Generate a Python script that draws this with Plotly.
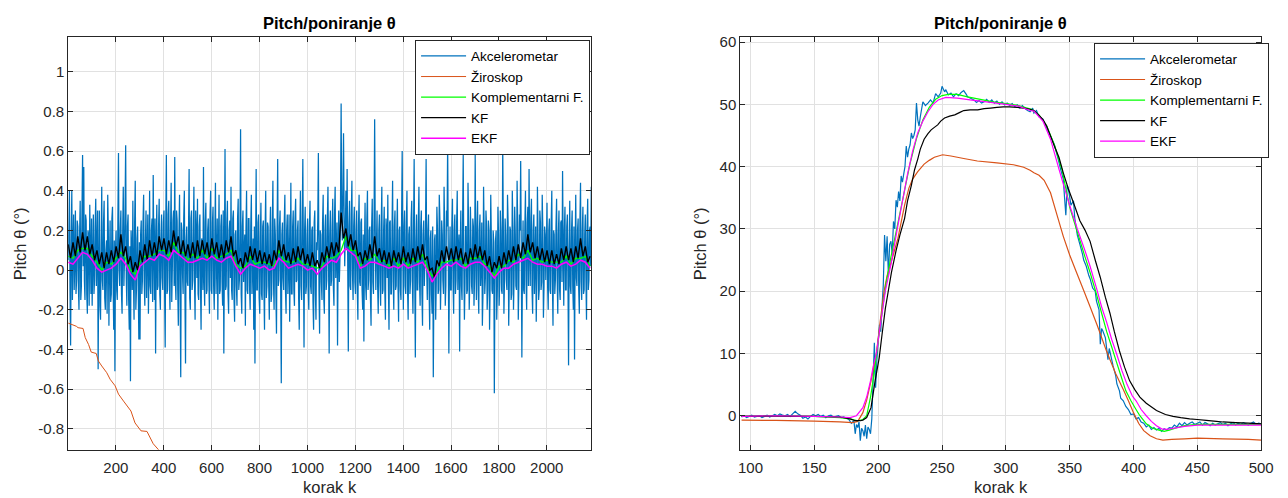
import plotly.graph_objects as go

# ---------------- LEFT PANEL DATA ----------------
# accelerometer samples at k = 1, 6, 11, ... (step 5)
acc_left_step = 5
acc_left = [
    0.05, 0.40, -0.38, 0.40, 0.12, -0.10, 0.30, -0.05, 0.22, -0.20, 0.35, -0.08, 0.58, 0.52, -0.15, 0.25, -0.22, 0.18, 0.33, -0.12,
    -0.18, 0.28, -0.05, 0.36, 0.10, -0.50, 0.30, -0.25, 0.42, -0.10, 0.35, -0.20, 0.15, 0.38, -0.28, 0.25, -0.12, 0.32, -0.30, -0.51,
    0.20, -0.15, 0.59, -0.08, 0.30, -0.22, 0.42, 0.05, 0.63, -0.18, 0.28, -0.30, -0.56, 0.12, 0.35, -0.25, 0.45, -0.10, 0.22, -0.35,
    -0.35, 0.25, -0.05, 0.38, -0.18, 0.30, 0.08, -0.22, 0.40, -0.12, 0.26, 0.48, -0.15, -0.42, 0.33, -0.08, 0.36, -0.20, 0.28, -0.10,
    0.30, -0.39, 0.58, -0.10, 0.35, -0.20, 0.44, 0.02, 0.30, 0.57, -0.15, 0.25, -0.28, 0.38, -0.54, 0.20, -0.12, 0.40, -0.47, 0.22,
    -0.08, 0.51, -0.20, 0.30, -0.05, 0.42, -0.25, 0.18, 0.36, -0.15, 0.28, -0.30, 0.12, 0.52, -0.18, 0.34, -0.10, 0.26, -0.22, 0.40,
    -0.12, 0.32, -0.20, 0.44, 0.05, -0.25, 0.38, -0.10, 0.28, -0.18, -0.42, 0.61, -0.08, 0.35, -0.22, 0.25, 0.42, -0.15, 0.30, -0.26,
    0.20, -0.18, 0.36, -0.05, 0.71, -0.22, 0.30, 0.10, -0.28, 0.40, -0.12, 0.26, -0.20, 0.38, 0.05, -0.30, -0.47, 0.51, -0.10, 0.28,
    -0.22, 0.34, -0.15, 0.25, -0.30, 0.40, -0.08, 0.22, -0.25, 0.32, -0.12, 0.45, -0.20, 0.18, -0.32, 0.56, -0.05, 0.30, -0.57, 0.24,
    -0.10, 0.38, -0.22, 0.28, 0.02, -0.26, 0.44, -0.12, 0.30, -0.18, 0.36, -0.05, 0.25, -0.30, 0.40, -0.15, 0.56, -0.39, 0.32, -0.08,
    0.26, -0.20, 0.35, -0.12, 0.22, -0.30, 0.30, -0.25, 0.10, 0.59, -0.32, 0.18, -0.15, 0.38, -0.22, 0.28, -0.05, 0.42, -0.42, 0.30,
    -0.05, 0.36, -0.18, 0.42, 0.10, -0.38, 0.30, 0.05, 0.84, 0.15, 0.69, 0.02, 0.40, 0.51, -0.41, 0.35, -0.10, 0.45, -0.15, 0.32,
    -0.12, 0.30, -0.25, 0.38, -0.08, 0.26, -0.20, -0.36, 0.34, -0.15, 0.40, -0.05, 0.22, -0.28, 0.36, -0.12, 0.76, -0.10, 0.30, -0.22,
    0.28, -0.18, 0.42, -0.10, 0.32, -0.25, 0.20, 0.38, -0.30, 0.25, -0.12, 0.45, -0.20, 0.30, -0.08, 0.36, -0.26, 0.22, -0.15, 0.60,
    -0.20, 0.30, -0.12, 0.40, -0.25, 0.22, -0.05, 0.35, -0.22, 0.56, -0.44, 0.28, -0.10, 0.42, -0.18, 0.30, -0.28, 0.25, 0.05, 0.56,
    -0.15, 0.28, -0.30, 0.20, -0.22, -0.54, 0.15, -0.25, 0.32, -0.12, 0.38, -0.20, 0.25, -0.05, 0.42, -0.18, 0.30, 0.64, -0.42, 0.22,
    -0.10, 0.36, -0.22, 0.28, -0.05, 0.40, 0.10, -0.41, 0.30, -0.15, 0.58, -0.25, 0.22, -0.12, 0.44, -0.20, 0.32, -0.08, 0.26, -0.18,
    0.58, -0.15, 0.35, -0.22, 0.28, 0.02, -0.28, 0.42, -0.12, 0.30, -0.20, 0.25, -0.30, 0.38, -0.10, 0.20, -0.62, 0.15, -0.25, 0.32,
    -0.18, 0.30, -0.10, 0.64, -0.22, 0.26, -0.05, 0.38, -0.28, 0.22, -0.15, 0.40, -0.20, 0.32, -0.08, 0.45, -0.25, 0.28, 0.55, -0.44,
    0.25, -0.12, 0.40, -0.20, 0.32, 0.51, -0.08, 0.36, -0.22, 0.28, 0.05, -0.26, 0.42, -0.15, 0.30, -0.10, 0.38, -0.24, 0.22, -0.05,
    0.34, -0.20, 0.26, -0.12, 0.40, -0.28, 0.18, -0.05, 0.36, -0.22, 0.30, -0.15, 0.25, 0.50, -0.18, 0.32, -0.10, 0.28, -0.48, 0.35,
    -0.12, 0.30, -0.20, -0.45, 0.38, -0.08, 0.26, -0.22, 0.44, -0.15, 0.32, -0.10, 0.28, -0.25, 0.36, -0.05, 0.22, 0.42, -0.37,
]
# accelerometer samples in between, at k = 3.5, 8.5, 13.5, ...
acc_left_mid = [
    0.22, -0.10, 0.15, -0.15, 0.28, 0.05, -0.12, 0.25, -0.08, 0.18, -0.15, 0.30, 0.02, -0.05, 0.28, -0.12, 0.20, -0.18, 0.10, 0.26,
    0.05, -0.12, 0.22, -0.08, 0.30, 0.02, -0.18, 0.12, -0.05, 0.24, -0.14, 0.10, -0.22, 0.20, 0.04, -0.16, 0.26, -0.06, 0.15, 0.10,
    -0.10, 0.26, 0.00, 0.20, -0.12, 0.18, -0.08, 0.32, -0.04, 0.22, -0.15, 0.12, 0.20, -0.10, -0.05, 0.24, -0.20, 0.16, -0.08, 0.14,
    0.18, -0.12, 0.24, -0.06, 0.15, -0.14, 0.28, 0.00, -0.08, 0.20, -0.16, 0.10, 0.26, 0.12, -0.10, 0.22, -0.12, 0.18, -0.04, 0.24,
    -0.10, 0.22, -0.12, 0.28, -0.04, 0.20, -0.16, 0.25, -0.08, -0.05, 0.30, -0.10, 0.18, -0.14, 0.24, -0.02, 0.26, -0.12, 0.15, -0.06,
    0.20, -0.14, 0.26, -0.10, 0.18, -0.06, 0.30, -0.04, -0.12, 0.22, -0.08, 0.16, -0.10, -0.04, 0.24, -0.12, 0.20, -0.06, 0.28, -0.10,
    0.24, -0.08, 0.18, -0.12, 0.26, 0.10, -0.12, 0.22, -0.06, 0.30, 0.10, -0.10, 0.24, -0.12, 0.20, -0.04, -0.10, 0.26, -0.14, 0.18,
    -0.08, 0.26, -0.10, 0.20, -0.12, 0.22, -0.06, 0.18, 0.20, -0.10, 0.26, -0.08, 0.22, -0.12, 0.16, 0.22, 0.08, -0.10, 0.24, -0.14,
    0.16, -0.12, 0.22, -0.10, 0.20, -0.14, 0.24, -0.08, 0.18, -0.16, 0.22, -0.06, 0.26, -0.12, 0.20, -0.08, 0.22, -0.10, 0.18, -0.04,
    0.24, -0.10, 0.20, -0.12, 0.28, 0.02, -0.12, 0.22, -0.10, 0.26, -0.06, 0.20, -0.14, 0.18, -0.08, 0.24, 0.05, 0.20, -0.12, 0.18,
    -0.10, 0.22, -0.08, 0.20, -0.16, 0.24, -0.12, 0.14, 0.26, -0.10, 0.20, -0.06, 0.24, -0.14, 0.20, -0.10, 0.26, 0.04, 0.18, -0.08,
    0.22, -0.08, 0.28, -0.04, 0.24, 0.10, -0.06, 0.35, 0.30, 0.38, 0.28, 0.20, 0.10, 0.04, 0.22, -0.08, 0.28, -0.02, 0.22, -0.06,
    0.20, -0.10, 0.22, -0.06, 0.24, -0.10, 0.18, 0.10, -0.08, 0.26, -0.10, 0.20, -0.14, 0.22, -0.06, 0.24, 0.20, 0.12, -0.08, 0.20,
    -0.06, 0.22, -0.12, 0.20, -0.10, 0.26, -0.04, -0.08, 0.24, -0.12, 0.20, -0.06, 0.22, -0.10, 0.18, -0.08, 0.20, -0.10, 0.24, 0.10,
    0.22, -0.08, 0.24, -0.10, 0.18, -0.12, 0.26, -0.06, 0.20, -0.02, 0.14, -0.10, 0.24, -0.06, 0.22, -0.12, 0.18, -0.08, 0.22, 0.00,
    0.20, -0.10, 0.16, -0.12, 0.22, -0.08, 0.18, -0.06, 0.20, -0.10, 0.26, -0.04, 0.18, -0.12, 0.20, -0.08, 0.22, 0.10, 0.02, -0.10,
    0.22, -0.06, 0.20, -0.12, 0.24, -0.10, 0.18, 0.10, -0.08, 0.26, 0.02, -0.06, 0.22, -0.10, 0.20, -0.06, 0.16, -0.12, 0.22, -0.04,
    0.10, 0.22, -0.10, 0.20, -0.08, 0.24, -0.12, 0.18, -0.04, 0.22, -0.10, 0.20, -0.06, 0.16, -0.12, 0.14, -0.05, 0.20, -0.10, 0.18,
    -0.06, 0.20, -0.12, 0.22, -0.04, 0.18, -0.10, 0.24, -0.06, 0.20, -0.12, 0.22, -0.04, 0.18, -0.10, 0.24, -0.08, 0.20, 0.10, 0.02,
    -0.10, 0.22, -0.06, 0.24, -0.08, 0.10, 0.26, -0.10, 0.20, -0.12, 0.22, -0.04, 0.18, -0.10, 0.24, -0.06, 0.20, -0.08, 0.18, 0.12,
    -0.08, 0.20, -0.10, 0.24, -0.06, 0.20, -0.12, 0.22, -0.04, 0.18, -0.10, 0.24, -0.06, 0.12, 0.20, -0.10, 0.22, -0.06, 0.10, -0.08,
    0.20, -0.08, 0.22, 0.10, -0.04, 0.20, -0.10, 0.24, -0.06, 0.20, -0.12, 0.18, -0.04, 0.22, -0.10, 0.20, 0.02, 0.10,
]

gyro_left_k = [1, 35, 42, 63, 72, 86, 97, 118, 127, 141, 162, 176, 197, 211, 232, 263, 280, 305, 330, 356, 378, 400]
gyro_left = [-0.267, -0.283, -0.29, -0.294, -0.34, -0.375, -0.413, -0.42, -0.458, -0.483, -0.517, -0.55,
             -0.583, -0.625, -0.66, -0.71, -0.77, -0.81, -0.813, -0.875, -0.905, -0.94]

comp_left_step = 20
comp_left = [
    0.07, 0.06, 0.10, 0.11, 0.11, 0.07, 0.04, 0.00, 0.04, 0.03, 0.06, 0.09, 0.06, 0.00, -0.02, 0.04, 0.07, 0.07, 0.08, 0.10,
    0.10, 0.07, 0.14, 0.09, 0.09, 0.05, 0.08, 0.06, 0.10, 0.06, 0.11, 0.06, 0.07, 0.08, 0.10, 0.03, 0.01, 0.02, 0.07, 0.03,
    0.04, 0.04, 0.03, 0.02, 0.10, 0.05, 0.04, 0.04, 0.06, 0.03, 0.03, 0.02, 0.01, 0.02, 0.07, 0.06, 0.07, 0.10, 0.17, 0.10,
    0.10, 0.02, 0.06, 0.05, 0.08, 0.04, 0.05, 0.02, 0.06, 0.02, 0.06, 0.02, 0.06, 0.04, 0.08, 0.01, -0.03, -0.01, 0.04, 0.04,
    0.05, 0.05, 0.06, 0.02, 0.06, 0.06, 0.07, 0.03, 0.02, -0.03, 0.02, 0.02, 0.05, 0.04, 0.08, 0.06, 0.10, 0.05, 0.06, 0.04,
    0.05, 0.04, 0.04, 0.04, 0.07, 0.03, 0.06, 0.06, 0.07, 0.02,
]

kf_left_step = 10
kf_left = [
    0.13, 0.06, 0.14, 0.07, 0.17, 0.09, 0.19, 0.10, 0.17, 0.08,
    0.13, 0.05, 0.10, 0.03, 0.09, 0.01, 0.09, 0.03, 0.10, 0.04,
    0.12, 0.06, 0.18, 0.07, 0.12, 0.03, 0.07, -0.01, 0.04, 0.00,
    0.10, 0.04, 0.13, 0.05, 0.15, 0.07, 0.14, 0.07, 0.17, 0.10,
    0.16, 0.08, 0.15, 0.09, 0.20, 0.12, 0.17, 0.08, 0.15, 0.07,
    0.13, 0.06, 0.14, 0.06, 0.15, 0.07, 0.15, 0.08, 0.14, 0.06,
    0.16, 0.08, 0.14, 0.06, 0.13, 0.06, 0.15, 0.09, 0.17, 0.07,
    0.10, 0.03, 0.06, 0.01, 0.09, 0.04, 0.12, 0.05, 0.11, 0.04,
    0.10, 0.03, 0.09, 0.03, 0.08, 0.02, 0.10, 0.05, 0.15, 0.07,
    0.13, 0.05, 0.09, 0.03, 0.11, 0.04, 0.12, 0.05, 0.11, 0.03,
    0.08, 0.02, 0.09, 0.02, 0.05, 0.01, 0.09, 0.04, 0.12, 0.06,
    0.14, 0.07, 0.14, 0.09, 0.29, 0.16, 0.21, 0.12, 0.18, 0.10,
    0.15, 0.07, 0.09, 0.03, 0.10, 0.05, 0.13, 0.06, 0.17, 0.07,
    0.11, 0.04, 0.10, 0.03, 0.09, 0.02, 0.10, 0.04, 0.09, 0.03,
    0.12, 0.04, 0.09, 0.03, 0.11, 0.04, 0.12, 0.05, 0.13, 0.05,
    0.07, 0.00, 0.01, -0.04, 0.05, 0.02, 0.10, 0.04, 0.12, 0.05,
    0.11, 0.04, 0.12, 0.05, 0.11, 0.03, 0.09, 0.03, 0.11, 0.05,
    0.13, 0.06, 0.12, 0.05, 0.10, 0.02, 0.07, -0.01, 0.04, 0.01,
    0.07, 0.01, 0.09, 0.03, 0.10, 0.04, 0.12, 0.05, 0.13, 0.06,
    0.14, 0.08, 0.18, 0.09, 0.14, 0.06, 0.12, 0.05, 0.11, 0.04,
    0.10, 0.03, 0.10, 0.03, 0.08, 0.03, 0.11, 0.05, 0.12, 0.05,
    0.11, 0.04, 0.12, 0.06, 0.16, 0.07, 0.12, 0.04, 0.07,
]

ekf_left_step = 20
ekf_left = [
    0.04, 0.03, 0.06, 0.09, 0.08, 0.05, 0.01, -0.01, 0.00, 0.01, 0.03, 0.06, 0.03, -0.02, -0.05, 0.02, 0.04, 0.06, 0.05, 0.08,
    0.07, 0.05, 0.10, 0.08, 0.06, 0.04, 0.04, 0.05, 0.06, 0.05, 0.07, 0.05, 0.04, 0.06, 0.07, 0.02, -0.02, 0.01, 0.03, 0.02,
    0.01, 0.02, 0.00, 0.01, 0.06, 0.04, 0.01, 0.02, 0.03, 0.02, 0.00, 0.01, -0.02, 0.01, 0.03, 0.05, 0.04, 0.08, 0.11, 0.09,
    0.07, 0.01, 0.02, 0.04, 0.04, 0.03, 0.02, 0.01, 0.02, 0.01, 0.03, 0.01, 0.02, 0.03, 0.04, 0.00, -0.06, -0.02, 0.01, 0.03,
    0.02, 0.04, 0.02, 0.01, 0.03, 0.04, 0.04, 0.02, -0.01, -0.04, -0.01, 0.01, 0.01, 0.03, 0.04, 0.05, 0.06, 0.04, 0.03, 0.03,
    0.02, 0.02, 0.01, 0.03, 0.04, 0.02, 0.03, 0.05, 0.04, 0.01,
]

# ---------------- RIGHT PANEL DATA ----------------
acc_right_k = [93, 95, 97, 99, 101, 103, 105, 107, 109, 111, 113, 115, 117, 119, 121, 123, 125, 127, 129, 131, 133, 135, 137, 139,
               141, 143, 145, 147, 149, 151, 153, 155, 157, 159, 161, 163, 165, 167, 169, 171, 173, 175, 177, 179, 181, 182,
               183, 184, 185, 186, 187, 188, 189, 190, 191, 192, 193, 194, 195, 196, 197, 198, 199, 200, 201, 202, 203, 204,
               205, 206, 207, 208, 209, 210, 211, 212, 213, 214, 215, 216, 217, 218, 219, 220, 221, 222, 223, 224, 225, 226,
               227, 228, 229, 230, 231, 232, 233, 235, 237, 239, 241, 243, 245, 247, 249, 250, 252, 253, 255, 257, 259, 261,
               263, 265, 267, 269, 270, 272, 275, 277, 279, 281, 283, 285, 287, 289, 291, 293, 295, 297, 299, 301, 303, 305,
               307, 309, 311, 313, 315, 317, 319, 321, 322, 324, 326, 329, 332, 335, 338, 341, 343, 345, 346, 347, 348, 349,
               351, 353, 354, 356, 358, 360, 361, 363, 365, 366, 368, 370, 371, 373, 374, 375, 376, 378, 380, 381, 382, 384,
               386, 387, 389, 390, 392, 394, 396, 398, 400, 402, 404, 406, 408, 410, 412, 414, 416, 418, 420, 422, 424, 426,
               428, 430, 432, 434, 436, 438, 440, 442, 444, 446, 448, 450, 452, 454, 456, 458, 460, 462, 464, 466, 468, 470,
               472, 474, 476, 478, 480, 482, 484, 486, 488, 490, 492, 494, 496, 498, 500]
acc_right = [-0.2, 0.0, -0.3, -0.1, 0.1, -0.2, -0.1, 0.0, -0.3, -0.1, 0.1, -0.2, 0.0, 0.2, 0.0, 0.3, 0.1, 0.0, 0.2, -0.1, 0.3, 0.7, 0.3, 0.1,
             -0.4, -0.2, -0.5, -0.1, 0.2, 0.0, 0.2, -0.1, 0.1, -0.3, 0.0, 0.1, -0.2, -0.1, 0.0, -0.3, -0.2, -0.4, -0.6, -1.2, -0.8, -2.9,
             -1.4, -1.9, -1.0, -4.0, -2.0, -2.4, -3.3, -1.5, -3.7, -1.8, -2.2, -2.9, -0.5, 5.6, 11.7, 4.5, 9.0, 12.0, 14.6, 13.5, 17.5, 21.0,
             29.0, 24.8, 28.8, 22.5, 27.5, 28.0, 26.0, 31.2, 30.0, 34.6, 33.5, 36.0, 34.5, 38.5, 37.5, 38.8, 40.0, 43.3, 41.5, 42.8, 43.5, 45.4,
             44.5, 45.0, 45.9, 50.2, 47.5, 46.5, 48.0, 50.4, 49.8, 50.2, 50.7, 50.2, 51.7, 51.2, 51.8, 52.9, 52.0, 52.3, 51.5, 51.8, 51.2, 51.7,
             51.4, 51.9, 52.2, 51.6, 51.2, 51.0, 50.7, 50.3, 50.6, 50.2, 50.4, 50.8, 50.3, 50.7, 50.2, 50.5, 50.0, 50.4, 49.9, 50.2, 49.8, 50.1,
             49.6, 49.9, 49.4, 49.8, 49.3, 49.0, 48.8, 49.4, 48.6, 49.0, 48.0, 47.6, 46.2, 44.9, 43.5, 41.2, 39.5, 38.0, 35.0, 32.2, 37.0, 36.4,
             33.8, 34.5, 31.7, 29.0, 27.5, 26.0, 25.0, 24.0, 22.5, 22.0, 20.5, 20.0, 18.4, 17.0, 11.5, 14.0, 13.6, 12.5, 9.0, 10.8, 9.9, 8.0,
             6.5, 5.1, 4.0, 2.8, 2.4, 1.5, 1.0, 0.2, 0.3, -0.5, -0.3, -1.0, -1.2, -1.8, -1.5, -2.2, -1.9, -2.3, -2.0, -2.5, -2.1, -2.3,
             -1.9, -2.0, -1.5, -1.8, -1.2, -1.6, -1.1, -1.5, -1.2, -1.0, -1.4, -1.2, -1.0, -1.5, -1.1, -1.3, -1.6, -1.2, -1.5, -1.3, -1.1, -1.4,
             -1.2, -1.6, -1.3, -1.1, -1.5, -1.2, -1.4, -1.1, -1.3, -1.5, -1.2, -1.0, -1.4, -1.2, -1.3]

gyro_right_k = [93, 120, 150, 170, 180, 184, 188, 191, 194.4, 198.6, 201.5, 204.6, 207, 210.4, 215.5, 220.7, 224, 227, 231, 236, 240,
                244, 250.5, 257, 267, 277.7, 293, 306, 314, 319, 322, 326, 330, 335, 340, 345, 350, 355, 361, 366, 372, 379,
                386, 392, 396, 400, 404, 408, 413, 418, 423, 430, 440, 450, 470, 490, 500]
gyro_right = [-0.7, -0.75, -0.85, -1.0, -1.1, -0.9, 0.5, 2.5, 5.6, 10.0, 15.0, 20.0, 22.5, 24.8, 28.5, 33.8, 36.5, 38.0, 39.2, 40.4, 41.0,
              41.5, 41.9, 41.7, 41.3, 40.9, 40.6, 40.3, 39.9, 39.4, 39.0, 38.6, 37.8, 35.8, 32.3, 28.8, 25.8, 23.2, 20.1, 17.5, 14.3, 10.3,
              6.8, 4.2, 2.4, 0.5, -1.2, -2.4, -3.2, -3.7, -3.9, -3.8, -3.7, -3.6, -3.7, -3.8, -3.9]

comp_right_k = [93, 120, 150, 170, 178, 184, 188, 191, 194, 197, 200, 203, 206, 210, 215, 220, 225, 230, 235, 240, 245, 250, 255,
                262, 270, 280, 290, 300, 310, 320, 326, 332, 338, 344, 350, 356, 362, 366, 371, 375, 379, 383, 385, 390, 394,
                398, 402, 405, 410, 415, 420, 424, 428, 434, 440, 450, 470, 500]
comp_right = [-0.1, 0.0, -0.1, -0.3, -0.5, -0.8, -0.6, 0.0, 3.0, 7.0, 12.0, 16.5, 21.0, 25.5, 30.5, 35.5, 40.5, 44.5, 47.5, 49.5, 50.8,
              51.4, 51.6, 51.6, 51.2, 50.8, 50.4, 50.1, 49.8, 49.2, 48.3, 46.5, 43.5, 39.5, 33.5, 29.5, 25.5, 23.0, 19.5, 16.5, 13.5,
              11.0, 9.7, 6.5, 4.0, 2.4, 1.0, 0.0, -1.3, -2.0, -2.3, -2.5, -2.3, -1.9, -1.6, -1.4, -1.4, -1.4]

kf_right_k = [93, 120, 150, 170, 178, 182, 186, 188, 191, 194.4, 197.6, 200.8, 203, 205.6, 210.4, 214, 217, 220.7, 223, 226, 228.5,
              231, 233, 236, 239, 241.5, 244, 246.6, 249, 252, 256, 260, 264, 267, 272, 278, 283, 288, 293, 298, 303, 309, 314,
              319, 322, 326, 329, 332, 335, 338, 341.6, 345, 349, 353, 358, 362, 366, 370, 374, 378, 381.5, 385, 389, 393, 397,
              401, 405, 410, 418, 425, 431, 437, 444, 450, 457, 465, 470, 480, 490, 500]
kf_right = [-0.1, -0.05, -0.1, -0.2, -0.5, -0.8, -0.8, -0.7, -0.3, 1.3, 5.6, 9.3, 13.0, 17.2, 23.0, 26.5, 29.0, 31.7, 34.5, 37.0, 39.5,
            41.2, 42.8, 44.4, 45.3, 45.9, 46.3, 46.7, 47.3, 47.8, 48.1, 48.3, 48.7, 49.0, 49.1, 49.1, 49.3, 49.4, 49.5, 49.6, 49.6, 49.5,
            49.4, 49.2, 49.0, 48.2, 47.6, 46.5, 44.9, 43.3, 41.5, 39.0, 36.4, 34.2, 31.3, 29.8, 28.0, 25.0, 22.2, 19.0, 16.5, 13.5, 10.4,
            7.8, 5.6, 4.2, 3.0, 2.0, 0.85, 0.2, -0.1, -0.3, -0.5, -0.6, -0.75, -0.9, -1.0, -1.1, -1.2, -1.3]

ekf_right_k = [93, 120, 150, 170, 178, 183, 188, 191, 194, 196, 198.6, 202, 205.6, 210, 215.5, 220, 223, 227, 231, 235, 239, 243,
               247, 253, 262, 272, 288, 300, 310, 319, 322, 329, 335, 341.6, 346, 350, 356, 362, 366, 371, 375, 379, 383, 387,
               391, 395, 399, 402, 406, 410, 414, 418, 422, 426, 432, 440, 450, 470, 500]
ekf_right = [-0.1, 0.0, -0.1, -0.2, -0.3, 0.0, 1.3, 3.0, 5.6, 7.8, 10.0, 15.0, 20.0, 24.3, 30.6, 35.5, 38.8, 42.5, 45.4, 47.3, 48.8, 50.0,
             50.7, 51.1, 51.0, 50.7, 50.3, 50.0, 49.7, 49.0, 48.9, 47.3, 44.4, 39.6, 36.5, 33.8, 30.0, 26.5, 24.0, 20.5, 17.5, 15.0,
             12.2, 9.8, 7.2, 5.0, 3.2, 2.4, 1.0, 0.0, -0.9, -1.6, -2.1, -2.2, -2.0, -1.7, -1.5, -1.5, -1.5]

# ---------------- LABELS / TICKS ----------------
series_names = ["Akcelerometar", "Žiroskop", "Komplementarni F.", "KF", "EKF"]
series_colors = ["#0072BD", "#D95319", "#00FF00", "#000000", "#FF00FF"]
title_text = "Pitch/poniranje θ"
xlabel_text = "korak k"
ylabel_text = "Pitch θ (°)"

left_xticks = [200, 400, 600, 800, 1000, 1200, 1400, 1600, 1800, 2000]
left_yticks = [-0.8, -0.6, -0.4, -0.2, 0, 0.2, 0.4, 0.6, 0.8, 1]
left_ytext = ["-0.8", "-0.6", "-0.4", "-0.2", "0", "0.2", "0.4", "0.6", "0.8", "1"]
right_xticks = [100, 150, 200, 250, 300, 350, 400, 450, 500]
right_yticks = [0, 10, 20, 30, 40, 50, 60]
left_xrange = [1, 2185]
left_yrange = [-0.905, 1.175]
right_xrange = [92, 500]
right_yrange = [-5.45, 60.8]


def idx(n, step, start=1.0):
    return [start + step * i for i in range(n)]


# merge the two accelerometer sample sets in k order
acc_left_x, acc_left_y = [], []
mid_x = idx(len(acc_left_mid), acc_left_step, 3.5)
for i, (kx, v) in enumerate(zip(idx(len(acc_left), acc_left_step), acc_left)):
    acc_left_x.append(kx)
    acc_left_y.append(v)
    if i < len(acc_left_mid):
        acc_left_x.append(mid_x[i])
        acc_left_y.append(acc_left_mid[i])

FONT = "Liberation Sans, Arial, Helvetica, sans-serif"
TXT = "#262626"

fig = go.Figure()

left_sets = [
    (acc_left_x, acc_left_y, 1.25),
    (gyro_left_k, gyro_left, 1.0),
    (idx(len(comp_left), comp_left_step), comp_left, 1.3),
    (idx(len(kf_left), kf_left_step), kf_left, 1.4),
    (idx(len(ekf_left), ekf_left_step), ekf_left, 1.5),
]
for (xs, ys, w), name, col in zip(left_sets, series_names, series_colors):
    fig.add_trace(go.Scatter(x=xs, y=ys, mode="lines", name=name,
                             line=dict(color=col, width=w, simplify=False),
                             xaxis="x", yaxis="y", legend="legend"))

right_sets = [
    (acc_right_k, acc_right),
    (gyro_right_k, gyro_right),
    (comp_right_k, comp_right),
    (kf_right_k, kf_right),
    (ekf_right_k, ekf_right),
]
for (xs, ys), name, col in zip(right_sets, series_names, series_colors):
    fig.add_trace(go.Scatter(x=xs, y=ys, mode="lines", name=name,
                             line=dict(color=col, width=1.2, simplify=False),
                             xaxis="x2", yaxis="y2", legend="legend2"))

W, H = 1288, 498
LX = [67 / W, 596 / W]
RX = [747 / W, 1274 / W]
YD = [1 - 449.3 / H, 1 - 33.3 / H]

axis_common = dict(showgrid=True, gridcolor="#E1E1E1", gridwidth=1, zeroline=False,
                   showline=True, linecolor=TXT, linewidth=1, mirror="ticks",
                   ticks="inside", ticklen=5, tickcolor=TXT,
                   tickfont=dict(family=FONT, size=15, color=TXT))

legend_common = dict(bgcolor="white", bordercolor=TXT, borderwidth=1,
                     font=dict(family=FONT, size=13.5, color="#000000"),
                     xanchor="right", yanchor="top", tracegroupgap=0, itemwidth=45)

fig.update_layout(
    width=W, height=H, autosize=False,
    margin=dict(l=0, r=0, t=0, b=0, pad=0),
    paper_bgcolor="white", plot_bgcolor="white",
    font=dict(family=FONT, color=TXT),
    xaxis=dict(domain=LX, range=left_xrange, tickvals=left_xticks, anchor="y", ticklabelstandoff=4, **axis_common),
    yaxis=dict(domain=YD, range=left_yrange, tickvals=left_yticks, ticktext=left_ytext, anchor="x", **axis_common),
    xaxis2=dict(domain=RX, range=right_xrange, tickvals=right_xticks, anchor="y2", ticklabelstandoff=4, **axis_common),
    yaxis2=dict(domain=YD, range=right_yrange, tickvals=right_yticks, anchor="x2", **axis_common),
    legend=dict(x=595 / W, y=1 - 36 / H, **legend_common),
    legend2=dict(x=1282 / W, y=1 - 39 / H, **legend_common),
    showlegend=True,
)

annots = []
for (a, b) in (LX, RX):
    annots.append(dict(text="<b>" + title_text + "</b>", x=(a + b) / 2, y=1 - 19 / H, xref="paper", yref="paper",
                       xanchor="center", yanchor="middle", showarrow=False,
                       font=dict(family=FONT, size=16.5, color="#000000")))
    annots.append(dict(text=xlabel_text, x=(a + b) / 2, y=1 - 487 / H, xref="paper", yref="paper",
                       xanchor="center", yanchor="middle", showarrow=False,
                       font=dict(family=FONT, size=16.5, color=TXT)))
for xc in (19, 707):
    annots.append(dict(text=ylabel_text, x=xc / W, y=(YD[0] + YD[1]) / 2, xref="paper", yref="paper",
                       xanchor="center", yanchor="middle", showarrow=False, textangle=-90,
                       font=dict(family=FONT, size=16.5, color=TXT)))
fig.update_layout(annotations=annots)

fig.write_html("out.html", config={"displayModeBar": False},
               post_script="document.body.style.margin='0';document.body.style.overflow='hidden';")
